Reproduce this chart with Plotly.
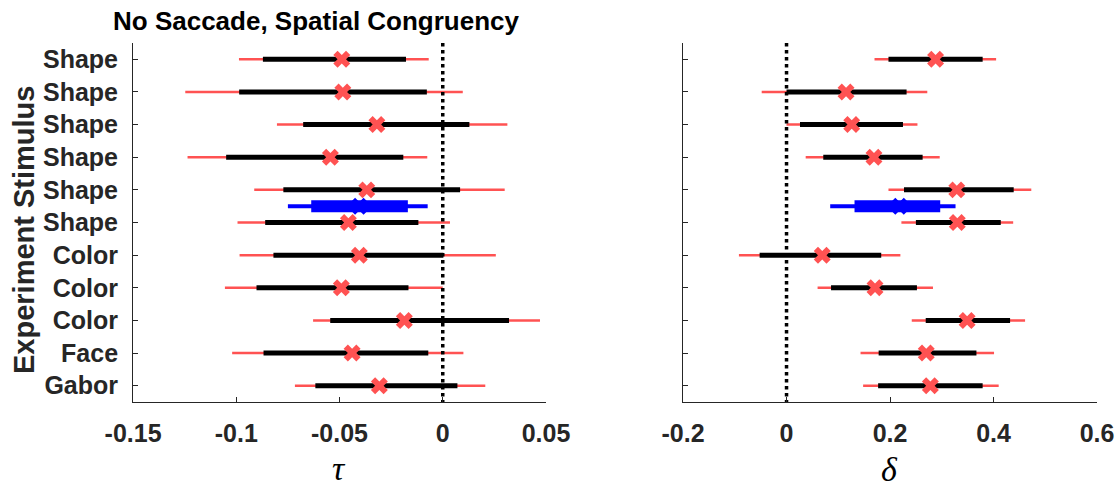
import plotly.graph_objects as go

# Rows from top to bottom
stimuli = ["Shape", "Shape", "Shape", "Shape", "Shape", "Shape",
           "Color", "Color", "Color", "Face", "Gabor"]
rows = [1, 2, 3, 4, 5, 6, 7, 8, 9, 10, 11]

# tau estimates: outer interval, inner interval, point estimate
tau_outer_lo = [-0.0987, -0.1247, -0.0803, -0.1236, -0.0913, -0.0994, -0.0984, -0.1055, -0.0628, -0.1020, -0.0716]
tau_inner_lo = [-0.0871, -0.0986, -0.0676, -0.1049, -0.0772, -0.0860, -0.0820, -0.0902, -0.0545, -0.0868, -0.0617]
tau_mid      = [-0.0489, -0.0484, -0.0319, -0.0544, -0.0368, -0.0457, -0.0404, -0.0491, -0.0186, -0.0439, -0.0307]
tau_inner_hi = [-0.0178, -0.0077, 0.0129, -0.0191, 0.0084, -0.0118, 0.0003, -0.0166, 0.0321, -0.0070, 0.0071]
tau_outer_hi = [-0.0068, 0.0097, 0.0313, -0.0075, 0.0300, 0.0035, 0.0257, 0.0000, 0.0471, 0.0100, 0.0206]

# delta estimates
delta_outer_lo = [0.170, -0.048, 0.000, 0.037, 0.197, 0.222, -0.092, 0.060, 0.242, 0.143, 0.148]
delta_inner_lo = [0.197, 0.000, 0.026, 0.071, 0.227, 0.250, -0.052, 0.086, 0.269, 0.178, 0.177]
delta_mid      = [0.288, 0.115, 0.126, 0.169, 0.329, 0.330, 0.069, 0.171, 0.349, 0.270, 0.278]
delta_inner_hi = [0.379, 0.232, 0.225, 0.263, 0.439, 0.414, 0.183, 0.252, 0.432, 0.367, 0.379]
delta_outer_hi = [0.405, 0.272, 0.253, 0.296, 0.473, 0.438, 0.220, 0.283, 0.461, 0.401, 0.410]

# pooled estimate, drawn between rows 5 and 6
pooled_row = 5.5
tau_pooled = [-0.0750, -0.0637, -0.0404, -0.0169, -0.0073]
delta_pooled = [0.0844, 0.1314, 0.2184, 0.2970, 0.3266]

tau_ticks = [-0.15, -0.1, -0.05, 0, 0.05]
tau_ticktext = ["-0.15", "-0.1", "-0.05", "0", "0.05"]
delta_ticks = [-0.2, 0, 0.2, 0.4, 0.6]
delta_ticktext = ["-0.2", "0", "0.2", "0.4", "0.6"]

RED = "rgb(255,82,82)"
BLUE = "rgb(0,0,255)"
AXIS = "rgb(38,38,38)"
BOLD = "Liberation Sans"


def segments(lo, hi, ys):
    xs, yy = [], []
    for a, b, y in zip(lo, hi, ys):
        xs += [a, b, None]
        yy += [y, y, None]
    return xs, yy


fig = go.Figure()


def add_panel(col, olo, ilo, mid, ihi, ohi, pooled):
    xa = "x" if col == 1 else "x2"
    ya = "y" if col == 1 else "y2"
    xs, ys = segments(olo, ohi, rows)
    fig.add_trace(go.Scatter(x=xs, y=ys, mode="lines", line=dict(color=RED, width=2.5),
                             xaxis=xa, yaxis=ya, hoverinfo="skip"))
    xs, ys = segments(ilo, ihi, rows)
    fig.add_trace(go.Scatter(x=xs, y=ys, mode="lines", line=dict(color="black", width=5),
                             xaxis=xa, yaxis=ya, hoverinfo="skip"))
    fig.add_trace(go.Scatter(x=mid, y=rows, mode="markers",
                             marker=dict(symbol="x", size=15, color=RED, line=dict(width=0)),
                             xaxis=xa, yaxis=ya))
    # pooled estimate in blue
    fig.add_trace(go.Scatter(x=[pooled[0], pooled[4]], y=[pooled_row, pooled_row], mode="lines",
                             line=dict(color=BLUE, width=4), xaxis=xa, yaxis=ya, hoverinfo="skip"))
    fig.add_trace(go.Scatter(x=[pooled[1], pooled[3]], y=[pooled_row, pooled_row], mode="lines",
                             line=dict(color=BLUE, width=12), xaxis=xa, yaxis=ya, hoverinfo="skip"))
    fig.add_trace(go.Scatter(x=[pooled[2]], y=[pooled_row], mode="markers",
                             marker=dict(symbol="x", size=15, color=BLUE, line=dict(width=0)),
                             xaxis=xa, yaxis=ya))
    # zero reference
    fig.add_trace(go.Scatter(x=[0, 0], y=[0.5, 11.5], mode="lines",
                             line=dict(color="black", width=3.5, dash="dot"),
                             xaxis=xa, yaxis=ya, hoverinfo="skip"))


add_panel(1, tau_outer_lo, tau_inner_lo, tau_mid, tau_inner_hi, tau_outer_hi, tau_pooled)
add_panel(2, delta_outer_lo, delta_inner_lo, delta_mid, delta_inner_hi, delta_outer_hi, delta_pooled)

xcommon = dict(showline=True, linecolor=AXIS, linewidth=1, ticks="inside", ticklen=5,
               tickcolor=AXIS, showgrid=False, zeroline=False, ticklabelstandoff=9,
               automargin=False,
               tickfont=dict(family=BOLD, size=25, color="rgb(38,38,38)", weight="bold"))
ycommon = dict(showline=True, linecolor=AXIS, linewidth=1, ticks="inside", ticklen=5,
               tickcolor=AXIS, showgrid=False, zeroline=False, range=[11.5, 0.5],
               automargin=False, tickvals=rows, ticktext=stimuli)

fig.update_layout(
    width=1117, height=487,
    margin=dict(l=0, r=0, t=0, b=0, autoexpand=False),
    paper_bgcolor="white", plot_bgcolor="white",
    showlegend=False,
    xaxis=dict(domain=[0.1191, 0.4888], range=[-0.15, 0.05], tickvals=tau_ticks,
               ticktext=tau_ticktext, anchor="y", **xcommon),
    xaxis2=dict(domain=[0.6115, 0.9821], range=[-0.2, 0.6], tickvals=delta_ticks,
                ticktext=delta_ticktext, anchor="y2", **xcommon),
    yaxis=dict(domain=[0.1745, 0.9117], anchor="x", ticklabelstandoff=9,
               tickfont=dict(family=BOLD, size=25, color="rgb(38,38,38)", weight="bold"),
               **ycommon),
    yaxis2=dict(domain=[0.1745, 0.9117], anchor="x2", showticklabels=False, **ycommon),
)

fig.add_annotation(text="No Saccade, Spatial Congruency", xref="paper", yref="paper",
                   x=316 / 1117, y=1 - 21 / 487, xanchor="center", yanchor="middle",
                   showarrow=False, font=dict(family=BOLD, size=26, color="black", weight="bold"))
fig.add_annotation(text="Experiment Stimulus", xref="paper", yref="paper",
                   x=24 / 1117, y=1 - 230 / 487, xanchor="center", yanchor="middle", textangle=-90,
                   showarrow=False, font=dict(family=BOLD, size=29, color="rgb(38,38,38)", weight="bold"))
fig.add_annotation(text="τ", xref="paper", yref="paper",
                   x=339 / 1117, y=1 - 468 / 487, xanchor="center", yanchor="middle",
                   showarrow=False, font=dict(family="Liberation Serif", size=34, color="black", style="italic"))
fig.add_annotation(text="δ", xref="paper", yref="paper",
                   x=889 / 1117, y=1 - 469 / 487, xanchor="center", yanchor="middle",
                   showarrow=False, font=dict(family="Liberation Serif", size=34, color="black", style="italic"))

fig.write_html("out.html")
